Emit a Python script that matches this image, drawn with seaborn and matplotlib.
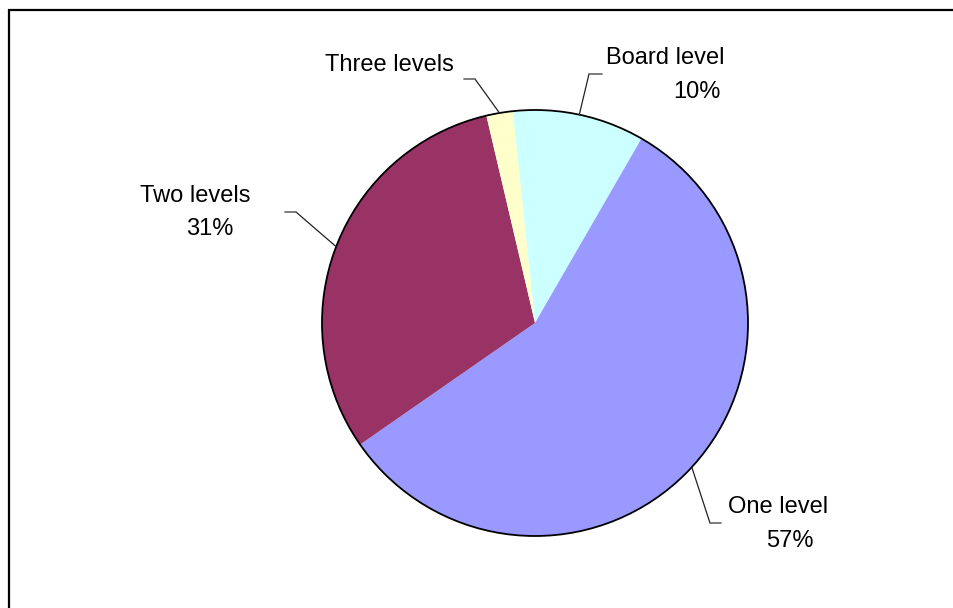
import matplotlib.pyplot as plt
import matplotlib.patches as mpatches
import numpy as np
import seaborn as sns

# Data
categories = ['Board level', 'One level', 'Two levels', 'Three levels']
shares = [10, 57, 31, 2]
show_pct = [True, True, True, False]
colors = sns.color_palette(['#CCFFFF', '#9999FF', '#993366', '#FFFFCC'])

sns.set_theme(style='white')
plt.rcParams['font.family'] = ['Liberation Sans', 'DejaVu Sans']

W, H = 954, 608
fig = plt.figure(figsize=(W / 100, H / 100), dpi=100)

# pie centre (535, 323) px, radius 213 px
cx, cy, r = 535, 323, 213
ax = fig.add_axes([(cx - r) / W, (H - cy - r) / H, 2 * r / W, 2 * r / H])
wedges, _ = ax.pie(shares, colors=colors, startangle=96, counterclock=False,
                   radius=1, wedgeprops={'linewidth': 0})
for w in wedges:
    w.set_clip_on(False)
ax.add_patch(mpatches.Circle((0, 0), 1, fill=False, edgecolor='black',
                             linewidth=1.3, clip_on=False))
ax.set_xlim(-1, 1)
ax.set_ylim(-1, 1)
ax.set_aspect('equal')
ax.axis('off')


def fpx(x, y):
    return x / W, 1 - y / H


# label layout in pixels: name position, pct position, elbow, line end
layout = {
    'Board level': ((606, 64), (673, 98), (589, 74), (602, 74)),
    'One level': ((728, 513), (766, 547), (710, 523), (721, 523)),
    'Two levels': ((140, 202), (186, 235), (296, 212), (285, 212)),
    'Three levels': ((325, 71), None, (475, 79), (464, 79)),
}

for w, name, val, pct in zip(wedges, categories, shares, show_pct):
    name_pos, pct_pos, elbow, end = layout[name]
    mid = np.deg2rad((w.theta1 + w.theta2) / 2)
    anchor = (np.cos(mid), np.sin(mid))
    ax.annotate('', xy=anchor, xycoords='data', xytext=fpx(*elbow),
                textcoords='figure fraction', annotation_clip=False,
                arrowprops=dict(arrowstyle='-', color='#222222', lw=0.9,
                                shrinkA=0, shrinkB=0))
    ex, ey = fpx(*elbow)
    nx, ny = fpx(*end)
    fig.add_artist(plt.Line2D([ex, nx], [ey, ny], color='#666666', lw=1.2))
    fig.text(*fpx(*name_pos), name, fontsize=17, color='black',
             ha='left', va='baseline')
    if pct:
        fig.text(*fpx(*pct_pos), f'{val}%', fontsize=17, color='black',
                 ha='left', va='baseline')

# chart frame: only the top and left sides are inside the picture
fx0, fy0 = fpx(9, 10)
fig.add_artist(plt.Line2D([fx0, fx0, 1.0], [0.0, fy0, fy0], color='black',
                          lw=1.6, solid_joinstyle='miter'))

fig.savefig('out.png', dpi=100)
